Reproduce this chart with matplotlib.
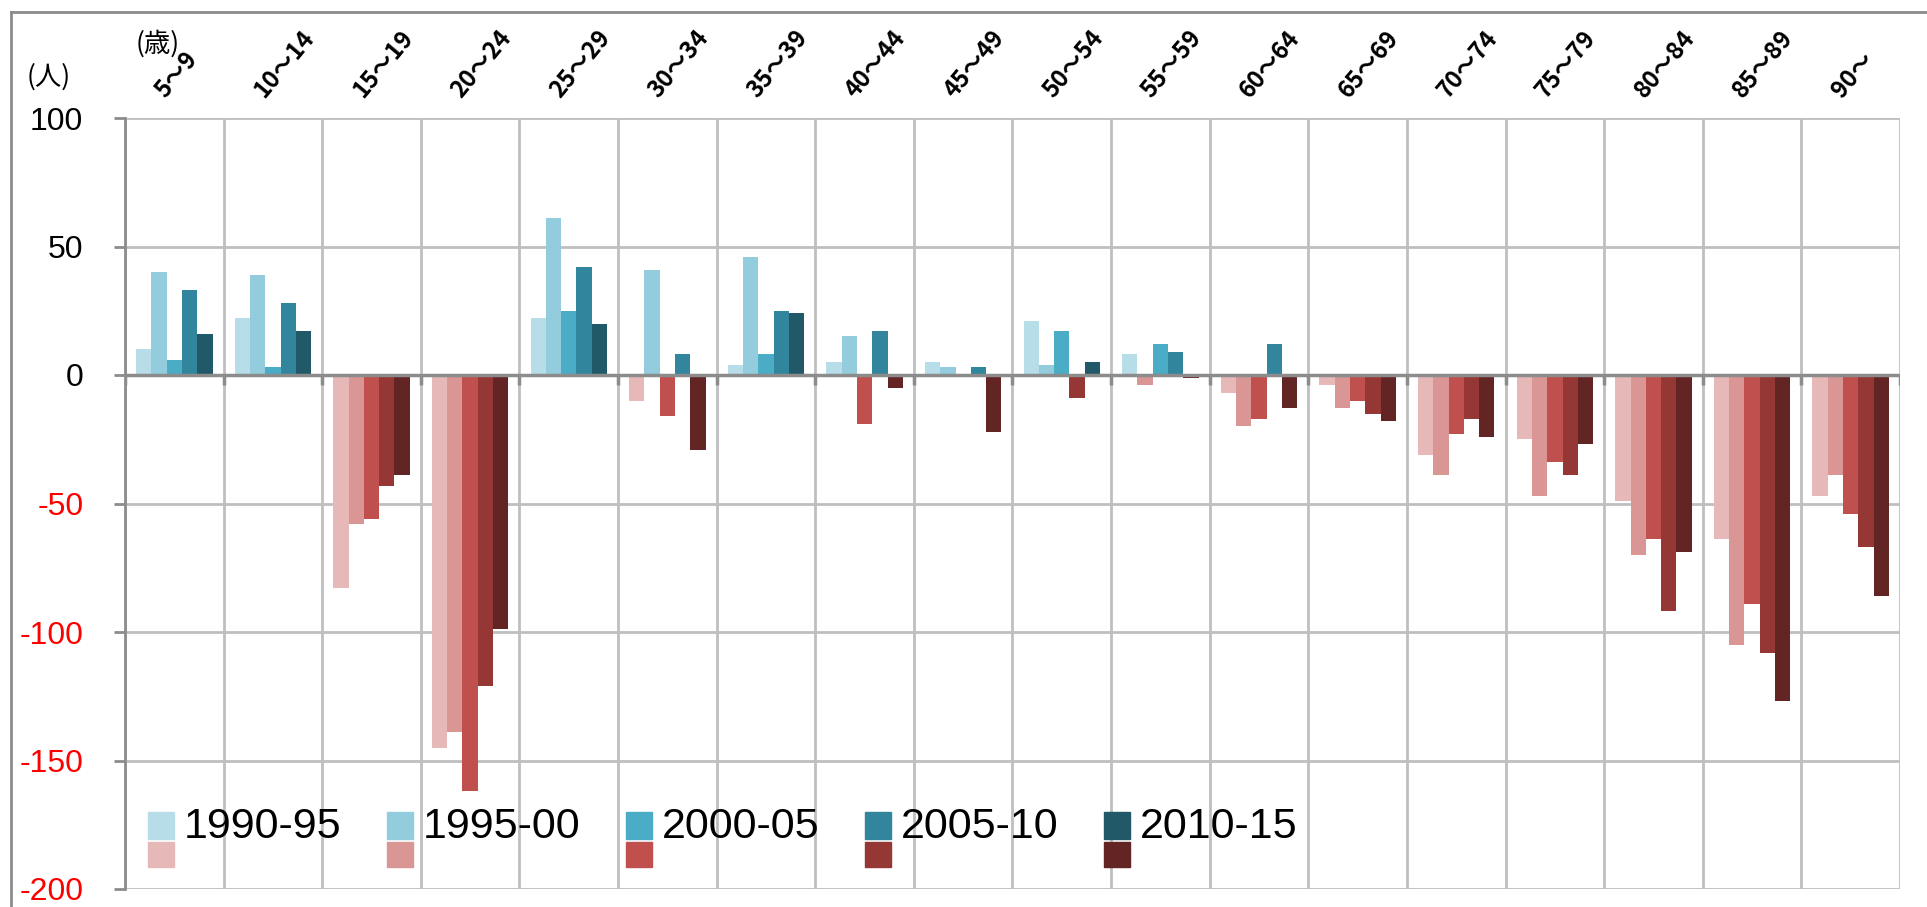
import numpy as np
import matplotlib
matplotlib.use("Agg")
import matplotlib.pyplot as plt
from matplotlib.patches import Rectangle
from matplotlib.transforms import offset_copy

# age groups and net migration by period (persons)
ages = ['5〜9', '10〜14', '15〜19', '20〜24', '25〜29', '30〜34', '35〜39', '40〜44', '45〜49',
        '50〜54', '55〜59', '60〜64', '65〜69', '70〜74', '75〜79', '80〜84', '85〜89', '90〜']
periods = ['1990-95', '1995-00', '2000-05', '2005-10', '2010-15']

v1990 = [10, 22, -83, -145, 22, -10, 4, 5, 5, 21, 8, -7, -4, -31, -25, -49, -64, -47]
v1995 = [40, 39, -58, -139, 61, 41, 46, 15, 3, 4, -4, -20, -13, -39, -47, -70, -105, -39]
v2000 = [6, 3, -56, -162, 25, -16, 8, -19, 0, 17, 12, -17, -10, -23, -34, -64, -89, -54]
v2005 = [33, 28, -43, -121, 42, 8, 25, 17, 3, -9, 9, 12, -15, -17, -39, -92, -108, -67]
v2010 = [16, 17, -39, -99, 20, -29, 24, -5, -22, 5, -1, -13, -18, -24, -27, -69, -127, -86]
series = [v1990, v1995, v2000, v2005, v2010]

blues = ['#B7DEE8', '#93CDDD', '#4BACC6', '#31859C', '#215968']
reds = ['#E6B9B8', '#D99694', '#C0504D', '#953735', '#632523']

cjk = ['Noto Sans CJK JP', 'DejaVu Sans']
latin = ['Liberation Sans', 'DejaVu Sans']

W, H = 1927, 907
fig = plt.figure(figsize=(W / 100, H / 100), dpi=100)


def fx(x):
    return x / W


def fy(y):
    return 1 - y / H


ax = fig.add_axes([fx(125), fy(889), fx(1900) - fx(125), fy(118) - fy(889)])

n = len(ages)
x = np.arange(n)
bw = 0.155
for i, vals in enumerate(series):
    vals = np.array(vals)
    cols = np.where(vals >= 0, blues[i], reds[i])
    ax.bar(x + (i - 2) * bw, vals, width=bw, color=cols, linewidth=0, zorder=3)

ax.set_xlim(-0.5, n - 0.5)
ax.set_ylim(-200, 100)

# gridlines
bounds = np.arange(n + 1) - 0.5
ax.set_xticks(bounds)
ax.set_xticklabels([])
ax.tick_params(axis='x', length=0)
ax.grid(axis='x', color='#BFBFBF', lw=2, zorder=1)
ax.set_yticks(np.arange(-200, 101, 50))
ax.grid(axis='y', color='#BFBFBF', lw=2, zorder=1)
ax.axhline(0, color='#8C8C8C', lw=2.5, zorder=4)
ax.vlines(bounds, -4, 0, color='#8C8C8C', lw=2.5, zorder=4)

for s in ['top', 'right', 'bottom']:
    ax.spines[s].set_visible(False)
ax.spines['left'].set_color('#8C8C8C')
ax.spines['left'].set_linewidth(2)

# y tick labels
ax.tick_params(axis='y', length=8, width=2, color='#8C8C8C', pad=22, labelsize=23)
ax.set_yticklabels([str(v) for v in range(-200, 101, 50)])
for lbl, v in zip(ax.get_yticklabels(), range(-200, 101, 50)):
    lbl.set_color('red' if v < 0 else 'black')
    lbl.set_fontfamily(latin)

# age labels above the plot, rotated
lab_tr = offset_copy(ax.get_xaxis_transform(), fig=fig, x=-5, y=16, units='dots')
for xi, a in zip(x, ages):
    ax.text(xi, 1.0, a, transform=lab_tr, rotation=50, rotation_mode='anchor',
            ha='left', va='bottom', fontsize=17, fontweight='bold', family=cjk,
            clip_on=False)

# unit labels
fig.text(fx(27), fy(77), '(人)', fontsize=19, family=cjk, ha='left', va='center')
fig.text(fx(136), fy(44), '(歳)', fontsize=19, family=cjk, ha='left', va='center')

# legend: blue (positive) and red (negative) swatch for each period
lx0, ldx = 148, 239
for i, p in enumerate(periods):
    x0 = lx0 + i * ldx
    fig.patches.append(Rectangle((fx(x0), fy(839)), fx(26), fy(812) - fy(839),
                                 transform=fig.transFigure, color=blues[i]))
    fig.patches.append(Rectangle((fx(x0), fy(867)), fx(26), fy(842) - fy(867),
                                 transform=fig.transFigure, color=reds[i]))
    fig.text(fx(x0 + 36), fy(827), p, fontsize=31, family=latin, ha='left', va='center')

# outer chart frame
fig.add_artist(plt.Line2D([fx(11), fx(11)], [fy(12), 0], transform=fig.transFigure,
                          color='#8C8C8C', lw=2))
fig.add_artist(plt.Line2D([fx(11), 1], [fy(12), fy(12)], transform=fig.transFigure,
                          color='#8C8C8C', lw=2))

fig.savefig('out.png', dpi=100)
